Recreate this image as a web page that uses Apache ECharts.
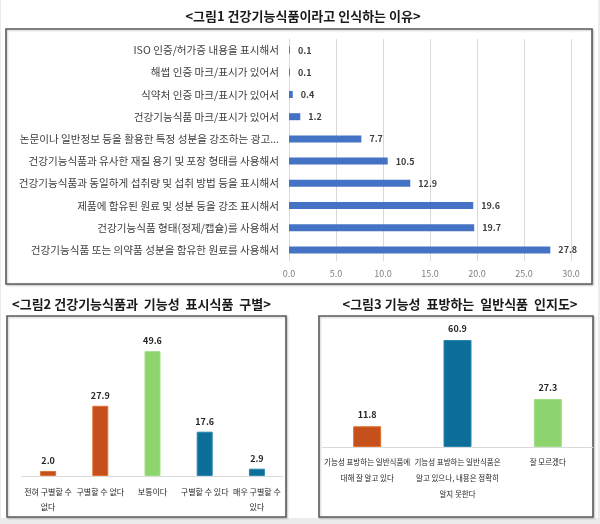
<!DOCTYPE html>
<html>
<head>
<meta charset="utf-8">
<script src="https://cdn.jsdelivr.net/npm/echarts@6/dist/echarts.min.js"></script>
<style>
  html, body { margin: 0; padding: 0; background: #ebebeb; }
  #chart { width: 600px; height: 524px; }
</style>
</head>
<body>
<div id="chart"></div>
<script>
// 그림1 데이터 (위에서 아래 순서)
var reasonCats = [
  'ISO 인증/허가증 내용을 표시해서',
  '해썹 인증 마크/표시가 있어서',
  '식약처 인증 마크/표시가 있어서',
  '건강기능식품 마크/표시가 있어서',
  '논문이나 일반정보 등을 활용한 특정 성분을 강조하는 광고...',
  '건강기능식품과 유사한 재질 용기 및 포장 형태를 사용해서',
  '건강기능식품과 동일하게 섭취량 및 섭취 방법 등을 표시해서',
  '제품에 함유된 원료 및 성분 등을 강조 표시해서',
  '건강기능식품 형태(정제/캡슐)를 사용해서',
  '건강기능식품 또는 의약품 성분을 함유한 원료를 사용해서'
];
var reasonVals = [0.1, 0.1, 0.4, 1.2, 7.7, 10.5, 12.9, 19.6, 19.7, 27.8];

// 그림2 데이터
var distinguishCats = ['전혀 구별할 수\n없다', '구별할 수 없다', '보통이다', '구별할 수 있다', '매우 구별할 수\n있다'];
var distinguishVals = [2.0, 27.9, 49.6, 17.6, 2.9];

// 그림3 데이터
var awareCats = ['기능성 표방하는 일반식품에\n대해 잘 알고 있다', '기능성 표방하는 일반식품은\n알고 있으나, 내용은 정확히\n알지 못한다', '잘 모르겠다'];
var awareVals = [11.8, 60.9, 27.3];

var ORANGE = '#C5501B', GREEN = '#8DD46F', BLUE = '#0C6E99';
var distColors = [ORANGE, ORANGE, GREEN, BLUE, BLUE];
var awareColors = [ORANGE, BLUE, GREEN];
var FONT = '"Noto Sans CJK KR", "Noto Sans", sans-serif';

var myChart = echarts.init(document.getElementById('chart'));

function colored(vals, colors) {
  return vals.map(function (v, i) {
    return {
      value: v,
      itemStyle: {
        color: colors[i],
        borderColor: colors[i] === ORANGE ? '#E2702F' : (colors[i] === GREEN ? '#9EE07F' : '#2A86B0'),
        borderWidth: 1
      }
    };
  });
}

function box(x, y, w, h) {
  return {
    type: 'rect',
    shape: { x: x, y: y, width: w, height: h },
    style: { fill: '#fff', stroke: '#5c5c5c', lineWidth: 1.6, shadowColor: 'rgba(0,0,0,0.2)', shadowBlur: 2, shadowOffsetX: 1, shadowOffsetY: 1 },
    z: -1
  };
}

var option = {
  backgroundColor: '#ebebeb',
  animation: false,
  textStyle: { fontFamily: FONT },
  graphic: [
    {
      type: 'rect',
      shape: { x: 1, y: 0, width: 597, height: 518 },
      style: { fill: '#fff' },
      z: -2
    },
    box(6, 29, 586, 255),
    box(7, 316, 279, 201),
    box(319, 316, 274, 201)
  ],
  title: [
    {
      text: '<그림1 건강기능식품이라고 인식하는 이유>',
      left: 298, top: 5, textAlign: 'center',
      textStyle: { fontSize: 13, fontWeight: 'bold', color: '#1a1a1a', fontFamily: FONT }
    },
    {
      text: '<그림2 건강기능식품과  기능성  표시식품  구별>',
      left: 7, top: 293,
      textStyle: { fontSize: 13, fontWeight: 'bold', color: '#1a1a1a', fontFamily: FONT }
    },
    {
      text: '<그림3 기능성  표방하는  일반식품  인지도>',
      left: 455, top: 293, textAlign: 'center',
      textStyle: { fontSize: 13, fontWeight: 'bold', color: '#1a1a1a', fontFamily: FONT }
    }
  ],
  grid: [
    { left: 289, right: 29, top: 39, height: 222 },
    { left: 22, right: 317, top: 325, bottom: 48 },
    { left: 322, right: 7, top: 324, bottom: 77 }
  ],
  xAxis: [
    {
      gridIndex: 0, type: 'value', min: 0, max: 30, interval: 5,
      axisLine: { show: false }, axisTick: { show: false },
      splitLine: { lineStyle: { color: '#d9d9d9' } },
      axisLabel: { color: '#7f7f7f', fontSize: 9, margin: 8, formatter: function (v) { return v.toFixed(1); } }
    },
    {
      gridIndex: 1, type: 'category', data: distinguishCats,
      axisLine: { lineStyle: { color: '#d9d9d9' } }, axisTick: { show: false },
      axisLabel: { interval: 0, color: '#262626', fontSize: 8, lineHeight: 15, margin: 8 }
    },
    {
      gridIndex: 2, type: 'category', data: awareCats,
      axisLine: { lineStyle: { color: '#d9d9d9' } }, axisTick: { show: false },
      axisLabel: { interval: 0, color: '#262626', fontSize: 7.5, lineHeight: 16, margin: 7 }
    }
  ],
  yAxis: [
    {
      gridIndex: 0, type: 'category', data: reasonCats, inverse: true,
      axisLine: { lineStyle: { color: '#d9d9d9' } }, axisTick: { show: false },
      axisLabel: { color: '#404040', fontSize: 10.6, margin: 10 }
    },
    { gridIndex: 1, type: 'value', min: 0, max: 60, show: false },
    { gridIndex: 2, type: 'value', min: 0, max: 70, show: false }
  ],
  series: [
    {
      type: 'bar', xAxisIndex: 0, yAxisIndex: 0,
      data: reasonVals, barWidth: 7,
      itemStyle: { color: '#4472C4' },
      label: { show: true, position: 'right', distance: 8, color: '#404040', fontSize: 9, fontWeight: 'bold', formatter: function (p) { return p.value.toFixed(1); } }
    },
    {
      type: 'bar', xAxisIndex: 1, yAxisIndex: 1,
      data: colored(distinguishVals, distColors), barWidth: 16,
      label: { show: true, position: 'top', distance: 6, color: '#262626', fontSize: 9, fontWeight: 'bold', formatter: function (p) { return p.value.toFixed(1); } }
    },
    {
      type: 'bar', xAxisIndex: 2, yAxisIndex: 2,
      data: colored(awareVals, awareColors), barWidth: 28,
      label: { show: true, position: 'top', distance: 7, color: '#262626', fontSize: 9, fontWeight: 'bold', formatter: function (p) { return p.value.toFixed(1); } }
    }
  ]
};

myChart.setOption(option);
</script>
</body>
</html>
